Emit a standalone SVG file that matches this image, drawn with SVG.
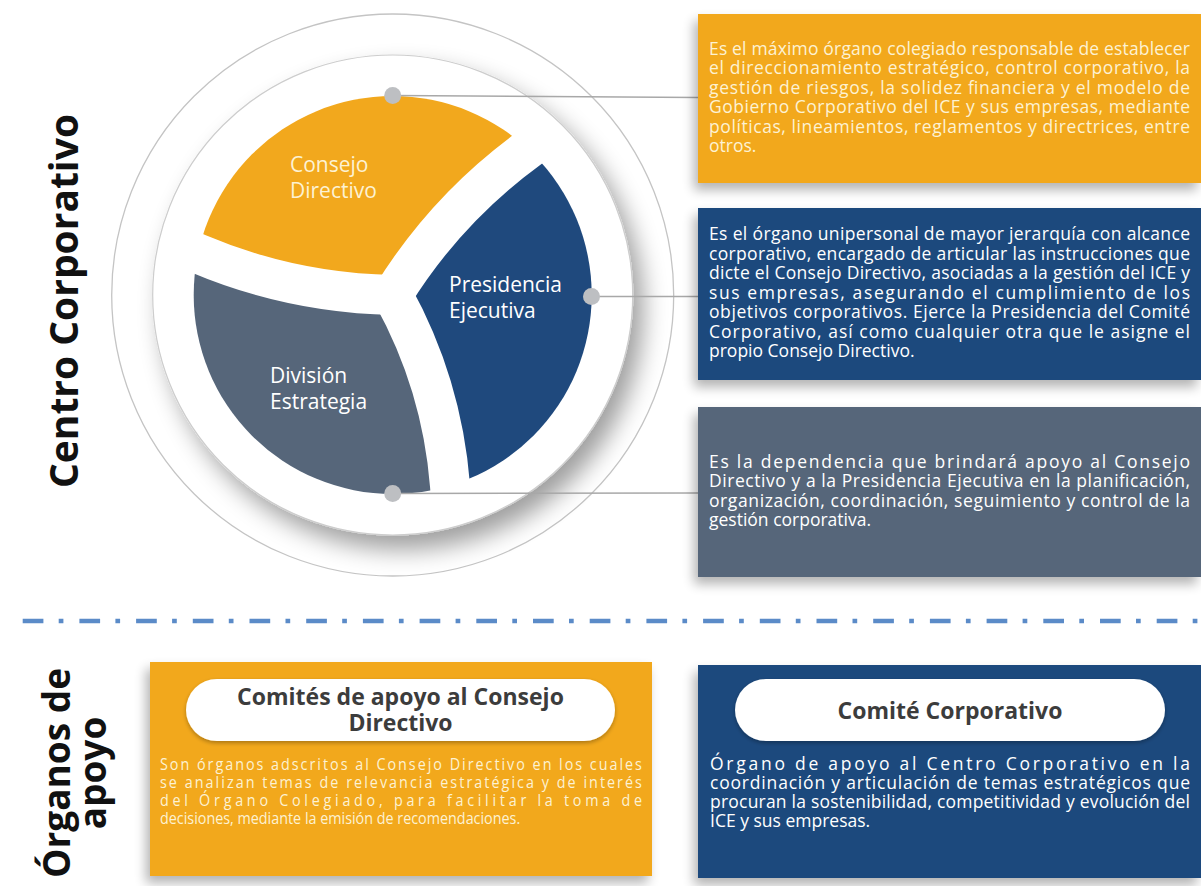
<svg xmlns="http://www.w3.org/2000/svg" width="1201" height="886" viewBox="0 0 1201 886">
<defs>
<style>
.bt{font-family:"Open Sans","Noto Sans","DejaVu Sans",sans-serif;font-size:17.5px}
.bs{font-family:"Open Sans","Noto Sans","DejaVu Sans",sans-serif;font-size:16.5px}
.pale{fill:#FDF2D3}
.wh{fill:#FFFFFF}
.lbl{font-family:"Open Sans","Noto Sans",sans-serif;font-size:21px}
.ttl{font-family:"Open Sans","Noto Sans",sans-serif;font-weight:bold;font-size:23px;fill:#3C3C3C;text-anchor:middle}
.side{font-family:"Open Sans","Noto Sans",sans-serif;font-weight:bold;fill:#111111;text-anchor:middle}
.conn{stroke:#A8A8A8;stroke-width:1.4;fill:none}
.dot{fill:#BDBFC2}
.gap{stroke:#FFFFFF;stroke-width:40;fill:none}
.orange{fill:#F2A81D}
.blue{fill:#1F497D}
.slate{fill:#56667A}
</style>
<filter id="discShadow" x="-20%" y="-20%" width="150%" height="150%">
<feGaussianBlur in="SourceAlpha" stdDeviation="12"/>
<feOffset dx="10" dy="14"/>
<feComponentTransfer><feFuncA type="linear" slope="0.38"/></feComponentTransfer>
<feMerge><feMergeNode/><feMergeNode in="SourceGraphic"/></feMerge>
</filter>
<filter id="boxShadow" x="-10%" y="-15%" width="125%" height="140%">
<feGaussianBlur in="SourceAlpha" stdDeviation="6"/>
<feOffset dx="-4" dy="7"/>
<feComponentTransfer><feFuncA type="linear" slope="0.3"/></feComponentTransfer>
<feMerge><feMergeNode/><feMergeNode in="SourceGraphic"/></feMerge>
</filter>
<filter id="pillShadow" x="-10%" y="-30%" width="120%" height="170%">
<feGaussianBlur in="SourceAlpha" stdDeviation="2"/>
<feOffset dx="0" dy="2"/>
<feComponentTransfer><feFuncA type="linear" slope="0.3"/></feComponentTransfer>
<feMerge><feMergeNode/><feMergeNode in="SourceGraphic"/></feMerge>
</filter>
<clipPath id="discClip"><circle cx="392.7" cy="295" r="199"/></clipPath>
</defs>
<rect x="0" y="0" width="1201" height="886" fill="#FFFFFF"/>

<g id="rings">
<circle cx="392.7" cy="295" r="281" fill="none" stroke="#C4C4C4" stroke-width="1.3"/>
<circle cx="392.7" cy="295" r="240" fill="#FFFFFF" stroke="#CDCDCD" stroke-width="1.2" filter="url(#discShadow)"/>
</g>

<g id="segments" clip-path="url(#discClip)">
<path id="seg-consejo-shape" class="orange" d="M392.7,295 Q291,293 198,253.6 L151.5,234 L40,234 L40,-20 L700,-20 L700,60 L569,119 L528,149 Q446,209 392.7,295 Z"/>
<path id="seg-presidencia-shape" class="blue" d="M392.7,295 Q446,209 528,149 L569,119 L700,60 L700,700 L454,700 L454,536 L450,485.6 Q442,384 392.7,295 Z"/>
<path id="seg-division-shape" class="slate" d="M392.7,295 Q442,384 450,485.6 L454,536 L454,700 L40,700 L40,234 L151.5,234 L198,253.6 Q291,293 392.7,295 Z"/>
</g>
<g id="gaps">
<path class="gap" d="M392.7,295 Q291,293 198,253.6 L184,247.7"/>
<path class="gap" d="M392.7,295 Q446,209 528,149 L540,140"/>
<path class="gap" d="M392.7,295 Q442,384 450,485.6 L451.2,500.8"/>
<circle cx="392.7" cy="295" r="21" fill="#FFFFFF"/>
</g>

<g id="seg-consejo">
<text class="lbl pale"><tspan x="290" y="172">Consejo</tspan><tspan x="290" y="198">Directivo</tspan></text>
</g>
<g id="seg-presidencia">
<text class="lbl wh"><tspan x="449" y="292">Presidencia</tspan><tspan x="449" y="318">Ejecutiva</tspan></text>
</g>
<g id="seg-division">
<text class="lbl wh"><tspan x="270" y="383">División</tspan><tspan x="270" y="409">Estrategia</tspan></text>
</g>

<g id="connectors">
<line class="conn" x1="392.7" y1="95.5" x2="698" y2="97.5"/>
<line class="conn" x1="591.5" y1="296.5" x2="698" y2="296.5"/>
<line class="conn" x1="392.7" y1="493.5" x2="698" y2="493"/>
<circle class="dot" cx="392.7" cy="95.5" r="8.5"/>
<circle class="dot" cx="591.5" cy="296.5" r="8.5"/>
<circle class="dot" cx="392.7" cy="493.5" r="8.5"/>
</g>

<g id="box-consejo">
<rect class="orange" x="698" y="14" width="503" height="169" filter="url(#boxShadow)"/>
<text class="bt pale">
<tspan x="709" y="54.5" textLength="481" lengthAdjust="spacing">Es el máximo órgano colegiado responsable de establecer</tspan>
<tspan x="709" y="74" textLength="481" lengthAdjust="spacing">el direccionamiento estratégico, control corporativo, la</tspan>
<tspan x="709" y="93.5" textLength="481" lengthAdjust="spacing">gestión de riesgos, la solidez financiera y el modelo de</tspan>
<tspan x="709" y="113" textLength="481" lengthAdjust="spacing">Gobierno Corporativo del ICE y sus empresas, mediante</tspan>
<tspan x="709" y="132.5" textLength="481" lengthAdjust="spacing">políticas, lineamientos, reglamentos y directrices, entre</tspan>
<tspan x="709" y="152">otros.</tspan>
</text>
</g>

<g id="box-presidencia">
<rect class="blue" x="698" y="208" width="503" height="172" filter="url(#boxShadow)"/>
<text class="bt wh">
<tspan x="709" y="240" textLength="481" lengthAdjust="spacing">Es el órgano unipersonal de mayor jerarquía con alcance</tspan>
<tspan x="709" y="259.5" textLength="481" lengthAdjust="spacing">corporativo, encargado de articular las instrucciones que</tspan>
<tspan x="709" y="279" textLength="481" lengthAdjust="spacing">dicte el Consejo Directivo, asociadas a la gestión del ICE y</tspan>
<tspan x="709" y="298.5" textLength="481" lengthAdjust="spacing">sus empresas, asegurando el cumplimiento de los</tspan>
<tspan x="709" y="318" textLength="481" lengthAdjust="spacing">objetivos corporativos. Ejerce la Presidencia del Comité</tspan>
<tspan x="709" y="337.5" textLength="481" lengthAdjust="spacing">Corporativo, así como cualquier otra que le asigne el</tspan>
<tspan x="709" y="357">propio Consejo Directivo.</tspan>
</text>
</g>

<g id="box-division">
<rect class="slate" x="698" y="407" width="503" height="170" filter="url(#boxShadow)"/>
<text class="bt wh">
<tspan x="709" y="467.5" textLength="481" lengthAdjust="spacing">Es la dependencia que brindará apoyo al Consejo</tspan>
<tspan x="709" y="487" textLength="481" lengthAdjust="spacing">Directivo y a la Presidencia Ejecutiva en la planificación,</tspan>
<tspan x="709" y="506.5" textLength="481" lengthAdjust="spacing">organización, coordinación, seguimiento y control de la</tspan>
<tspan x="709" y="526">gestión corporativa.</tspan>
</text>
</g>

<g id="title-centro">
<text class="side" font-size="39" transform="translate(78,301) rotate(-90)" textLength="374" lengthAdjust="spacingAndGlyphs">Centro Corporativo</text>
</g>

<g id="divider">
<line x1="22.7" y1="621" x2="1201" y2="621" stroke="#5B8BC8" stroke-width="4.5" stroke-dasharray="20.7 15.3 4.7 16"/>
</g>

<g id="title-organos">
<text class="side" font-size="37" transform="translate(0,773) rotate(-90)"><tspan x="0" y="70">Órganos de</tspan><tspan x="0" y="106">apoyo</tspan></text>
</g>

<g id="box-comites">
<rect class="orange" x="150" y="662" width="502" height="214" filter="url(#boxShadow)"/>
<rect x="186" y="679" width="429" height="62" rx="31" fill="#FFFFFF" filter="url(#pillShadow)"/>
<text class="ttl"><tspan x="400.5" y="705">Comités de apoyo al Consejo</tspan><tspan x="400.5" y="731">Directivo</tspan></text>
<text class="bs pale" transform="scale(0.87,1)">
<tspan x="183.9" y="770" textLength="554" lengthAdjust="spacing">Son órganos adscritos al Consejo Directivo en los cuales</tspan>
<tspan x="183.9" y="788" textLength="554" lengthAdjust="spacing">se analizan temas de relevancia estratégica y de interés</tspan>
<tspan x="183.9" y="806" textLength="554" lengthAdjust="spacing">del Órgano Colegiado, para facilitar la toma de</tspan>
<tspan x="183.9" y="824" textLength="414" lengthAdjust="spacing">decisiones, mediante la emisión de recomendaciones.</tspan>
</text>
</g>

<g id="box-comite-corporativo">
<rect class="blue" x="698" y="665" width="503" height="213" filter="url(#boxShadow)"/>
<rect x="735" y="679" width="430" height="62" rx="31" fill="#FFFFFF" filter="url(#pillShadow)"/>
<text class="ttl" x="950" y="719">Comité Corporativo</text>
<text class="bt wh">
<tspan x="710" y="770" textLength="480" lengthAdjust="spacing">Órgano de apoyo al Centro Corporativo en la</tspan>
<tspan x="710" y="789" textLength="480" lengthAdjust="spacing">coordinación y articulación de temas estratégicos que</tspan>
<tspan x="710" y="808" textLength="480" lengthAdjust="spacing">procuran la sostenibilidad, competitividad y evolución del</tspan>
<tspan x="710" y="827">ICE y sus empresas.</tspan>
</text>
</g>
</svg>
